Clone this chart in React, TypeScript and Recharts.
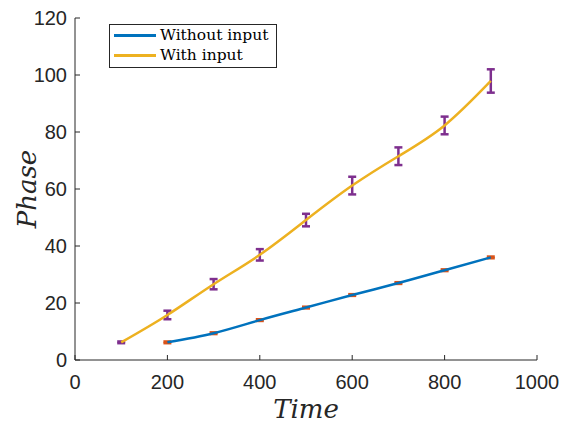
import { ComposedChart, Line, XAxis, YAxis, ErrorBar } from "recharts";

const timeWithout = [200, 300, 400, 500, 600, 700, 800, 900];
const phaseWithout = [6.2, 9.4, 14.0, 18.4, 22.8, 27.0, 31.5, 36.0];
const errWithout = [0.3, 0.3, 0.3, 0.3, 0.3, 0.3, 0.3, 0.3];

const timeWith = [100, 200, 300, 400, 500, 600, 700, 800, 900];
const phaseWith = [6.2, 15.8, 26.6, 36.9, 49.1, 61.2, 71.5, 82.3, 97.9];
const errWith = [0.3, 1.5, 1.8, 2.0, 2.2, 3.1, 3.1, 3.1, 4.1];

const xTicks = [0, 200, 400, 600, 800, 1000];
const yTicks = [0, 20, 40, 60, 80, 100, 120];

const dataWithout = timeWithout.map((t, i) => ({ t, v: phaseWithout[i], e: errWithout[i] }));
const dataWith = timeWith.map((t, i) => ({ t, v: phaseWith[i], e: errWith[i] }));

const INK = "#262626";
const TICK_FONT = "'Liberation Sans', Arial, Helvetica, sans-serif";
const SERIF = "'DejaVu Serif', 'Liberation Serif', serif";

const BottomTick = (p: any) => (
  <g>
    <line x1={p.x} y1={p.y} x2={p.x} y2={p.y - 5} stroke={INK} strokeWidth={1} />
    <text x={p.x} y={p.y + 29} textAnchor="middle" fill={INK} fontSize={20} fontFamily={TICK_FONT}>
      {p.payload.value}
    </text>
  </g>
);

const LeftTick = (p: any) => (
  <g>
    <line x1={p.x} y1={p.y} x2={p.x + 5} y2={p.y} stroke={INK} strokeWidth={1} />
    <text x={p.x - 8} y={p.y + 7} textAnchor="end" fill={INK} fontSize={20} fontFamily={TICK_FONT}>
      {p.payload.value}
    </text>
  </g>
);

const TopTick = (p: any) => (
  <line x1={p.x} y1={p.y} x2={p.x} y2={p.y + 5} stroke={INK} strokeWidth={1} />
);

const RightTick = (p: any) => (
  <line x1={p.x} y1={p.y} x2={p.x - 5} y2={p.y} stroke={INK} strokeWidth={1} />
);

const TimeLabel = (p: any) => {
  const vb = p.viewBox;
  return (
    <text x={vb.x + vb.width / 2} y={418} textAnchor="middle" fill={INK} fontSize={26} fontStyle="italic" fontFamily={SERIF}>
      Time
    </text>
  );
};

const PhaseLabel = (p: any) => {
  const vb = p.viewBox;
  const cy = vb.y + vb.height / 2;
  return (
    <text x={36} y={cy} transform={`rotate(-90 36 ${cy})`} textAnchor="middle" fill={INK} fontSize={26} fontStyle="italic" fontFamily={SERIF}>
      Phase
    </text>
  );
};

export default function App() {
  return (
    <div style={{ position: "absolute", left: 0, top: 0, width: 562, height: 425, background: "#fff" }}>
      <ComposedChart width={562} height={425} margin={{ top: 18, right: 25, left: 0, bottom: 0 }}>
        <XAxis
          dataKey="t"
          type="number"
          domain={[0, 1000]}
          ticks={xTicks}
          height={65}
          tickSize={0}
          tickMargin={0}
          tickLine={false}
          axisLine={{ stroke: INK }}
          tick={<BottomTick />}
          allowDuplicatedCategory={false}
          label={<TimeLabel />}
        />
        <XAxis
          xAxisId="top"
          orientation="top"
          type="number"
          domain={[0, 1000]}
          ticks={xTicks}
          height={0}
          tickSize={0}
          tickMargin={0}
          tickLine={false}
          axisLine={{ stroke: INK }}
          tick={<TopTick />}
        />
        <YAxis
          type="number"
          domain={[0, 120]}
          ticks={yTicks}
          width={75}
          tickSize={0}
          tickMargin={0}
          tickLine={false}
          axisLine={{ stroke: INK }}
          tick={<LeftTick />}
          label={<PhaseLabel />}
        />
        <YAxis
          yAxisId="right"
          orientation="right"
          type="number"
          domain={[0, 120]}
          ticks={yTicks}
          width={0}
          tickSize={0}
          tickMargin={0}
          tickLine={false}
          axisLine={{ stroke: INK }}
          tick={<RightTick />}
        />
        <Line
          data={dataWithout}
          dataKey="v"
          type="natural"
          stroke="#0072BD"
          strokeWidth={2.5}
          dot={false}
          isAnimationActive={false}
        >
          <ErrorBar dataKey="e" direction="y" width={4} stroke="#D95319" strokeWidth={2.5} />
        </Line>
        <Line
          data={dataWith}
          dataKey="v"
          type="natural"
          stroke="#EDB120"
          strokeWidth={2.5}
          dot={false}
          isAnimationActive={false}
        >
          <ErrorBar dataKey="e" direction="y" width={4} stroke="#7E2F8E" strokeWidth={2.5} />
        </Line>
      </ComposedChart>
      <div
        style={{
          position: "absolute",
          left: 109,
          top: 24,
          width: 166,
          height: 42,
          border: `1px solid ${INK}`,
          background: "#fff",
          fontFamily: SERIF,
          fontSize: 15.5,
          color: "#000",
        }}
      >
        <div style={{ position: "absolute", left: 4, top: 9, width: 42, height: 2.5, background: "#0072BD" }} />
        <div style={{ position: "absolute", left: 50, top: 0, lineHeight: "20px", whiteSpace: "nowrap" }}>Without input</div>
        <div style={{ position: "absolute", left: 4, top: 29, width: 42, height: 2.5, background: "#EDB120" }} />
        <div style={{ position: "absolute", left: 50, top: 20, lineHeight: "20px", whiteSpace: "nowrap" }}>With input</div>
      </div>
    </div>
  );
}
